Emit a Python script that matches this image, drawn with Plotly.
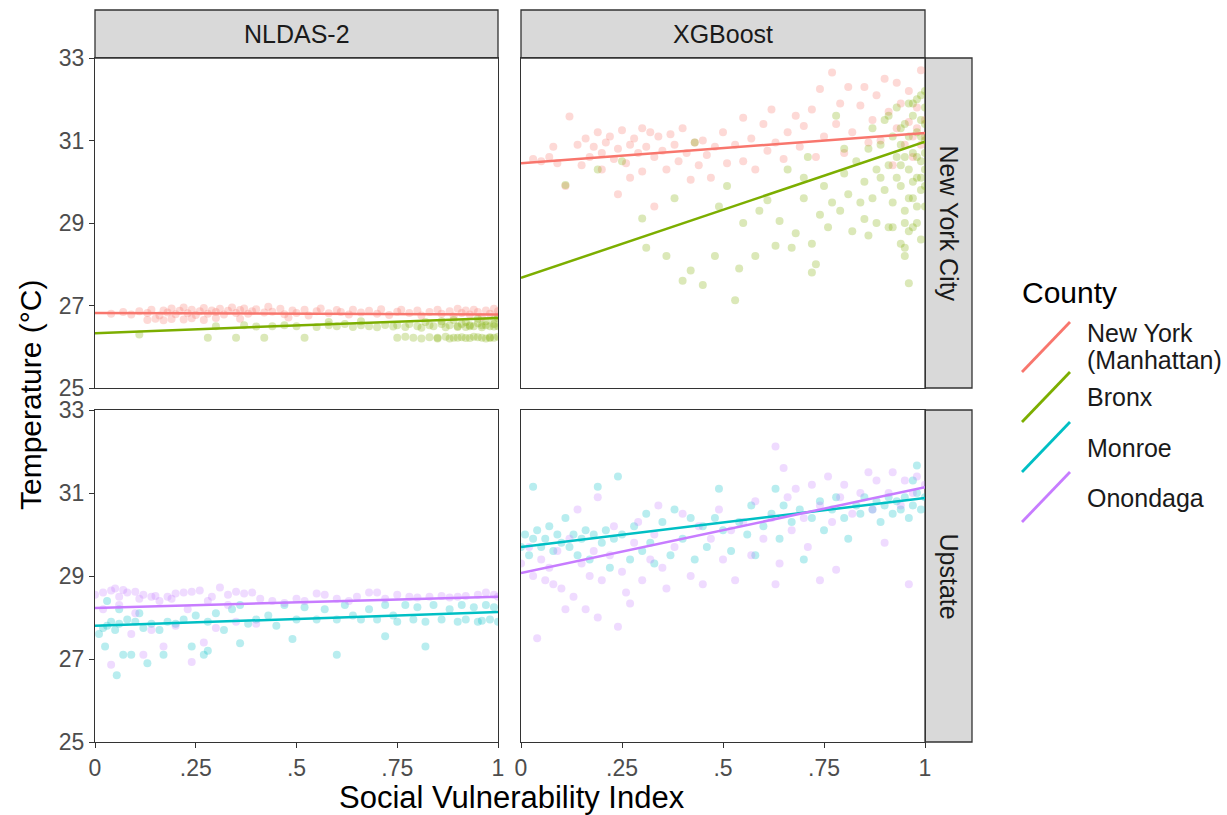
import plotly.graph_objects as go

# ---------------- data ----------------
counties = ["New York (Manhattan)", "Bronx", "Monroe", "Onondaga"]
colors = {"New York (Manhattan)": "#F8766D", "Bronx": "#7CAE00",
          "Monroe": "#00BFC4", "Onondaga": "#C77CFF"}
x_ticks = [0, 0.25, 0.5, 0.75, 1]
x_tick_labels = ["0", ".25", ".5", ".75", "1"]
y_ticks = [25, 27, 29, 31, 33]
y_tick_labels = ["25", "27", "29", "31", "33"]

nldas_manhattan = [(0.04,26.80),(0.07,26.84),(0.09,26.78),(0.11,26.86),(0.13,26.82),(0.14,26.9),(0.16,26.76),(0.17,26.88),(0.18,26.83),(0.19,26.93),(0.2,26.79),(0.21,26.87),(0.22,26.95),(0.23,26.81),(0.24,26.9),(0.25,26.77),(0.26,26.86),(0.27,26.94),(0.28,26.8),(0.29,26.88),(0.3,26.84),(0.31,26.92),(0.32,26.78),(0.33,26.87),(0.34,26.95),(0.35,26.82),(0.36,26.89),(0.37,26.93),(0.38,26.8),(0.39,26.86),(0.4,26.91),(0.42,26.83),(0.43,26.97),(0.44,26.85),(0.46,26.92),(0.47,26.79),(0.49,26.88),(0.5,26.82),(0.52,26.9),(0.53,26.76),(0.55,26.86),(0.56,26.93),(0.58,26.81),(0.6,26.89),(0.61,26.84),(0.63,26.78),(0.64,26.9),(0.66,26.83),(0.68,26.87),(0.7,26.8),(0.71,26.91),(0.73,26.77),(0.75,26.85),(0.76,26.9),(0.78,26.82),(0.8,26.88),(0.81,26.76),(0.83,26.84),(0.85,26.9),(0.86,26.8),(0.88,26.86),(0.89,26.74),(0.9,26.92),(0.91,26.82),(0.92,26.88),(0.93,26.78),(0.94,26.9),(0.95,26.84),(0.96,26.72),(0.97,26.88),(0.98,26.8),(0.99,26.92),(1.0,26.76),(1.0,26.86),(0.13,26.65),(0.15,26.68),(0.17,26.64),(0.19,26.67),(0.22,26.66),(0.24,26.69),(0.27,26.65),(0.3,26.7),(0.36,26.68),(0.48,26.71)]
nldas_bronx = [(0.11,26.3),(0.28,26.22),(0.35,26.22),(0.42,26.22),(0.52,26.22),(0.3,26.5),(0.37,26.52),(0.4,26.49),(0.44,26.5),(0.47,26.52),(0.5,26.5),(0.55,26.48),(0.58,26.52),(0.6,26.5),(0.62,26.55),(0.64,26.48),(0.66,26.52),(0.68,26.5),(0.7,26.47),(0.72,26.53),(0.74,26.49),(0.75,26.52),(0.77,26.48),(0.78,26.55),(0.8,26.5),(0.81,26.46),(0.83,26.52),(0.84,26.5),(0.86,26.55),(0.87,26.47),(0.88,26.52),(0.9,26.5),(0.91,26.55),(0.92,26.48),(0.93,26.52),(0.94,26.5),(0.95,26.57),(0.96,26.47),(0.97,26.52),(0.98,26.5),(0.99,26.55),(1.0,26.5),(0.75,26.22),(0.77,26.24),(0.79,26.22),(0.81,26.2),(0.83,26.23),(0.85,26.22),(0.87,26.24),(0.88,26.2),(0.9,26.22),(0.91,26.23),(0.93,26.21),(0.94,26.24),(0.96,26.22),(0.97,26.2),(0.98,26.23),(0.99,26.22),(1.0,26.24),(0.86,26.62),(0.89,26.65),(0.92,26.6),(0.95,26.68),(0.97,26.62),(0.99,26.66),(1.0,26.7),(0.82,26.6),(0.66,26.62),(0.58,26.6),(0.85,26.2),(0.89,26.22),(0.92,26.21),(0.95,26.23),(0.98,26.21),(0.9,26.48),(0.93,26.5),(0.96,26.52),(0.99,26.49)]
xgb_manhattan = [(0.03,30.55),(0.07,30.6),(0.09,30.45),(0.11,29.9),(0.12,31.58),(0.14,30.9),(0.15,30.4),(0.16,31.05),(0.17,30.6),(0.18,30.85),(0.19,31.2),(0.2,30.7),(0.2,30.3),(0.21,30.95),(0.22,31.1),(0.23,30.55),(0.24,29.7),(0.24,30.8),(0.25,31.25),(0.26,30.45),(0.27,30.9),(0.27,30.1),(0.28,31.05),(0.29,30.7),(0.3,31.3),(0.3,30.25),(0.31,30.85),(0.32,31.2),(0.33,29.4),(0.33,30.6),(0.34,31.1),(0.35,30.75),(0.36,30.3),(0.37,31.15),(0.38,30.9),(0.39,30.5),(0.4,31.3),(0.41,30.7),(0.42,30.05),(0.43,30.95),(0.44,30.4),(0.45,31.0),(0.46,30.65),(0.47,30.1),(0.48,30.85),(0.5,31.2),(0.51,30.45),(0.53,30.9),(0.55,30.5),(0.57,31.05),(0.58,30.3),(0.6,31.4),(0.61,30.75),(0.62,31.75),(0.63,30.95),(0.65,30.55),(0.66,31.2),(0.68,31.6),(0.69,30.85),(0.7,31.35),(0.72,31.75),(0.73,30.6),(0.74,32.25),(0.75,31.1),(0.77,32.65),(0.78,31.4),(0.79,31.9),(0.8,30.7),(0.81,32.3),(0.82,31.2),(0.84,31.85),(0.85,32.3),(0.86,30.95),(0.87,31.5),(0.88,32.1),(0.89,31.0),(0.9,32.5),(0.91,31.7),(0.92,30.4),(0.93,32.4),(0.93,31.3),(0.94,31.9),(0.95,30.9),(0.96,31.45),(0.96,32.2),(0.97,31.1),(0.97,30.6),(0.98,31.8),(0.98,31.3),(0.99,32.7),(0.99,30.9),(1.0,31.5),(1.0,31.1),(0.55,31.55),(0.08,30.85),(0.05,30.5)]
xgb_bronx = [(0.11,29.92),(0.19,30.3),(0.3,29.11),(0.31,28.4),(0.36,28.2),(0.4,27.6),(0.42,27.85),(0.45,27.5),(0.48,28.2),(0.53,27.13),(0.54,27.9),(0.58,28.2),(0.63,28.45),(0.67,28.4),(0.72,28.5),(0.72,27.8),(0.73,28.0),(0.95,28.4),(0.96,27.54),(0.43,30.95),(0.25,30.5),(0.38,29.6),(0.49,29.4),(0.51,29.9),(0.55,29.0),(0.59,29.3),(0.61,29.55),(0.64,29.05),(0.66,30.3),(0.68,28.75),(0.7,29.6),(0.71,30.6),(0.74,29.2),(0.75,29.9),(0.76,28.9),(0.77,29.5),(0.78,31.6),(0.79,29.3),(0.8,30.2),(0.81,29.7),(0.82,28.8),(0.83,30.5),(0.84,29.5),(0.85,30.0),(0.85,29.1),(0.86,30.8),(0.87,29.6),(0.87,31.3),(0.88,30.3),(0.88,29.0),(0.89,30.9),(0.9,29.8),(0.9,31.5),(0.91,30.4),(0.91,28.9),(0.92,31.1),(0.92,29.5),(0.93,30.6),(0.93,31.8),(0.94,29.9),(0.94,30.9),(0.95,31.4),(0.95,29.3),(0.96,30.3),(0.96,31.9),(0.96,28.8),(0.97,30.7),(0.97,29.6),(0.97,31.6),(0.98,30.1),(0.98,31.2),(0.98,29.0),(0.98,32.0),(0.99,30.5),(0.99,31.5),(0.99,29.8),(0.99,28.6),(1.0,31.0),(1.0,30.3),(1.0,31.8),(1.0,32.2),(1.0,29.4),(0.94,28.5),(0.95,28.2),(0.92,28.9),(0.86,28.7),(0.8,30.8),(0.7,30.1),(0.93,30.1),(0.94,31.3),(0.95,30.6),(0.96,29.6),(0.96,31.1),(0.97,30.0),(0.97,31.9),(0.98,30.6),(0.98,29.4),(0.99,31.1),(0.99,30.1),(0.99,32.1),(1.0,30.7),(1.0,31.4),(1.0,29.9),(0.97,28.9),(0.94,30.4),(0.91,31.6),(0.89,30.1),(0.95,29.0)]
nldas_onondaga = [(0.0,28.55),(0.02,28.6),(0.04,28.65),(0.05,28.7),(0.06,28.5),(0.07,28.66),(0.08,28.6),(0.1,28.62),(0.11,28.45),(0.12,28.55),(0.14,28.5),(0.15,28.52),(0.16,28.4),(0.18,28.5),(0.19,28.45),(0.2,28.58),(0.22,28.6),(0.24,28.62),(0.26,28.65),(0.28,28.4),(0.29,28.5),(0.31,28.72),(0.33,28.55),(0.35,28.62),(0.37,28.58),(0.39,28.6),(0.41,28.45),(0.44,28.4),(0.47,28.35),(0.5,28.45),(0.52,28.4),(0.55,28.58),(0.57,28.55),(0.6,28.45),(0.63,28.4),(0.65,28.5),(0.68,28.6),(0.7,28.6),(0.72,28.45),(0.75,28.55),(0.78,28.5),(0.8,28.48),(0.83,28.5),(0.86,28.52),(0.88,28.48),(0.9,28.5),(0.92,28.52),(0.95,28.55),(0.97,28.6),(0.99,28.55),(1.0,28.5),(0.04,26.86),(0.24,26.93),(0.17,27.3),(0.12,27.1),(0.27,27.4),(0.09,27.6),(0.14,27.7),(0.2,27.8),(0.3,27.75),(0.02,28.2),(0.06,28.3),(0.1,28.1),(0.23,28.2),(0.35,27.9),(0.4,27.85),(0.33,28.3)]
nldas_monroe = [(0.054,26.61),(0.6,27.1),(0.82,27.3),(0.72,27.55),(0.025,27.3),(0.13,26.9),(0.07,27.1),(0.09,27.1),(0.17,27.1),(0.27,27.1),(0.28,27.2),(0.36,27.38),(0.49,27.48),(0.24,27.3),(0.01,27.6),(0.02,27.75),(0.03,27.8),(0.04,27.9),(0.05,27.7),(0.06,27.85),(0.08,27.95),(0.1,27.9),(0.12,27.75),(0.14,27.85),(0.16,27.7),(0.18,27.9),(0.2,27.85),(0.22,27.95),(0.25,28.05),(0.28,27.9),(0.3,28.1),(0.32,27.7),(0.34,28.2),(0.36,28.3),(0.38,27.85),(0.4,27.95),(0.43,28.05),(0.45,27.8),(0.47,28.3),(0.5,27.95),(0.52,28.25),(0.55,27.95),(0.57,28.2),(0.6,27.95),(0.62,28.3),(0.64,28.05),(0.66,27.95),(0.68,28.2),(0.7,27.95),(0.72,28.3),(0.74,28.05),(0.75,27.9),(0.77,28.3),(0.79,27.95),(0.8,28.25),(0.82,27.9),(0.84,28.3),(0.86,27.95),(0.88,28.2),(0.9,27.9),(0.91,28.3),(0.92,27.95),(0.94,28.25),(0.95,27.9),(0.96,27.92),(0.97,28.3),(0.98,27.95),(0.99,28.25),(1.0,27.9),(0.06,28.2),(0.11,28.1),(0.03,28.4)]
xgb_onondaga = [(0.04,27.5),(0.63,32.12),(0.65,31.6),(0.24,27.78),(0.11,28.2),(0.19,28.0),(0.16,28.2),(0.27,28.34),(0.78,29.15),(0.74,28.9),(0.96,28.8),(0.63,28.8),(0.0,29.3),(0.02,29.7),(0.03,29.0),(0.05,29.4),(0.06,28.9),(0.07,29.2),(0.08,28.8),(0.09,29.6),(0.1,28.7),(0.12,29.9),(0.13,28.5),(0.14,30.6),(0.15,29.3),(0.17,29.0),(0.18,29.6),(0.19,30.9),(0.2,28.9),(0.22,29.5),(0.23,30.2),(0.25,29.1),(0.26,28.6),(0.28,29.8),(0.29,30.3),(0.3,28.9),(0.32,29.4),(0.33,30.0),(0.34,30.7),(0.35,29.2),(0.36,28.7),(0.38,29.7),(0.4,30.5),(0.42,29.0),(0.44,30.2),(0.45,28.8),(0.47,29.9),(0.49,30.6),(0.5,29.4),(0.52,30.1),(0.53,28.9),(0.55,30.3),(0.57,29.5),(0.58,30.8),(0.6,29.9),(0.62,30.4),(0.64,29.3),(0.66,30.9),(0.67,30.1),(0.68,31.1),(0.7,30.4),(0.71,29.7),(0.72,31.2),(0.74,30.7),(0.76,31.4),(0.77,30.3),(0.79,30.9),(0.8,31.2),(0.82,30.5),(0.84,31.0),(0.86,31.5),(0.87,30.6),(0.88,31.3),(0.9,29.8),(0.91,31.0),(0.92,31.5),(0.94,30.7),(0.95,31.3),(0.97,31.0),(0.98,31.4),(1.0,31.2)]
xgb_monroe = [(0.03,31.15),(0.24,31.4),(0.19,31.15),(0.49,31.1),(0.63,31.1),(0.98,31.66),(0.0,29.7),(0.01,30.0),(0.02,29.5),(0.03,29.9),(0.04,30.1),(0.05,29.7),(0.06,29.9),(0.07,30.2),(0.08,29.6),(0.09,30.0),(0.1,29.8),(0.11,30.4),(0.12,29.7),(0.13,30.0),(0.14,29.5),(0.15,29.9),(0.16,30.1),(0.17,29.4),(0.18,30.0),(0.2,29.8),(0.21,30.1),(0.22,29.2),(0.23,29.9),(0.25,30.0),(0.27,29.4),(0.28,30.2),(0.3,29.6),(0.31,30.5),(0.32,29.8),(0.33,29.3),(0.35,30.3),(0.37,29.5),(0.38,30.6),(0.4,29.9),(0.42,30.4),(0.43,29.4),(0.45,30.2),(0.46,29.7),(0.48,30.4),(0.5,30.1),(0.52,29.6),(0.54,30.3),(0.56,30.0),(0.57,30.7),(0.58,29.5),(0.6,30.2),(0.62,30.5),(0.64,29.9),(0.65,30.7),(0.67,30.3),(0.69,30.6),(0.7,29.4),(0.72,30.4),(0.74,30.8),(0.75,30.1),(0.77,30.6),(0.78,30.9),(0.8,30.4),(0.81,29.9),(0.83,30.7),(0.84,30.5),(0.85,30.9),(0.87,30.6),(0.88,30.8),(0.89,30.3),(0.9,30.7),(0.91,30.9),(0.92,30.5),(0.93,30.8),(0.94,30.6),(0.95,30.9),(0.96,30.4),(0.97,30.7),(0.98,31.0),(0.99,30.6),(1.0,30.9),(0.97,31.3)]

# fitted line values at SVI = 0 and SVI = 1
fit_x = [0, 1]
fit_nldas_manhattan = [26.82, 26.78]
fit_nldas_bronx = [26.33, 26.70]
fit_xgb_manhattan = [30.45, 31.18]
fit_xgb_bronx = [27.67, 30.97]
fit_nldas_monroe = [27.80, 28.13]
fit_nldas_onondaga = [28.23, 28.50]
fit_xgb_monroe = [29.70, 30.88]
fit_xgb_onondaga = [29.07, 31.14]

# panel id -> (axis suffix, [(county, points, fit)])
panels = [
    ("", [("New York (Manhattan)", nldas_manhattan, fit_nldas_manhattan), ("Bronx", nldas_bronx, fit_nldas_bronx)]),
    ("2", [("New York (Manhattan)", xgb_manhattan, fit_xgb_manhattan), ("Bronx", xgb_bronx, fit_xgb_bronx)]),
    ("3", [("Monroe", nldas_monroe, fit_nldas_monroe), ("Onondaga", nldas_onondaga, fit_nldas_onondaga)]),
    ("4", [("Monroe", xgb_monroe, fit_xgb_monroe), ("Onondaga", xgb_onondaga, fit_xgb_onondaga)]),
]

W, H = 1227, 815
def px(v): return v / W
def py(v): return 1 - v / H

fig = go.Figure()
for suf, series in panels:
    for county, pts, fit in series:
        fig.add_trace(go.Scatter(
            x=[p[0] for p in pts], y=[p[1] for p in pts], mode="markers",
            xaxis="x" + suf, yaxis="y" + suf, showlegend=False, hoverinfo="skip",
            marker=dict(size=8, color=colors[county], opacity=0.28, line=dict(width=0))))
for suf, series in panels:
    for county, pts, fit in series:
        fig.add_trace(go.Scatter(
            x=fit_x, y=fit, mode="lines", xaxis="x" + suf, yaxis="y" + suf,
            showlegend=False, hoverinfo="skip",
            line=dict(color=colors[county], width=2.5)))

FONT = "Liberation Sans, Arial, sans-serif"
L1, R1, L2, R2 = 95, 498, 521, 925
T1, B1, T2, B2 = 58, 388, 410, 742
border = "#333333"
TICK = dict(family=FONT, size=23, color="#4D4D4D")

def xax(l, r, anchor, labels):
    return dict(domain=[px(l), px(r)], anchor=anchor, range=[0, 1], showgrid=False, zeroline=False,
                automargin=False, showline=True, mirror=True, linecolor=border, linewidth=1.3,
                tickvals=x_ticks, ticktext=x_tick_labels,
                ticks="outside" if labels else "", ticklen=5, tickcolor=border, tickwidth=1.3,
                showticklabels=labels, tickfont=TICK)

def yax(t, b, anchor, labels):
    return dict(domain=[py(b), py(t)], anchor=anchor, range=[25, 33], showgrid=False, zeroline=False,
                automargin=False, showline=True, mirror=True, linecolor=border, linewidth=1.3,
                tickvals=y_ticks, ticktext=y_tick_labels,
                ticks="outside" if labels else "", ticklen=5, tickcolor=border, tickwidth=1.3,
                showticklabels=labels, tickfont=TICK)

shapes = []
strip = dict(type="rect", xref="paper", yref="paper", fillcolor="#D9D9D9",
             line=dict(color=border, width=1.3), layer="below")
shapes.append(dict(strip, x0=px(L1), x1=px(R1), y0=py(T1), y1=py(10)))
shapes.append(dict(strip, x0=px(L2), x1=px(R2), y0=py(T1), y1=py(10)))
shapes.append(dict(strip, x0=px(R2), x1=px(972), y0=py(B1), y1=py(T1)))
shapes.append(dict(strip, x0=px(R2), x1=px(972), y0=py(B2), y1=py(T2)))

annotations = [
    dict(text="NLDAS-2", x=px((L1 + R1) / 2), y=py(34)),
    dict(text="XGBoost", x=px((L2 + R2) / 2), y=py(34)),
    dict(text="New York City", x=px(948.5), y=py((T1 + B1) / 2), textangle=90),
    dict(text="Upstate", x=px(948.5), y=py((T2 + B2) / 2), textangle=90),
]
for a in annotations:
    a.update(xref="paper", yref="paper", showarrow=False, xanchor="center", yanchor="middle",
             font=dict(family=FONT, size=25, color="#1A1A1A"))

annotations.append(dict(text="Social Vulnerability Index", x=px(512), y=py(797), xref="paper", yref="paper",
                        showarrow=False, xanchor="center", yanchor="middle",
                        font=dict(family=FONT, size=31, color="#000000")))
annotations.append(dict(text="Temperature (°C)", x=px(30), y=py(395), xref="paper", yref="paper",
                        showarrow=False, xanchor="center", yanchor="middle", textangle=-90,
                        font=dict(family=FONT, size=30, color="#000000")))

# legend (ggplot-style diagonal keys)
annotations.append(dict(text="County", x=px(1020), y=py(293), xref="paper", yref="paper", showarrow=False,
                        xanchor="left", yanchor="middle", font=dict(family=FONT, size=30, color="#000000")))
legend_keys = [("New York (Manhattan)", 372), ("Bronx", 422), ("Monroe", 472), ("Onondaga", 522)]
legend_texts = [("New York", 333), ("(Manhattan)", 360), ("Bronx", 397), ("Monroe", 448), ("Onondaga", 498)]
for county, ybot in legend_keys:
    shapes.append(dict(type="line", xref="paper", yref="paper", x0=px(1022), y0=py(ybot),
                       x1=px(1070), y1=py(ybot - 50), line=dict(color=colors[county], width=2.8)))
for label, ytxt in legend_texts:
    annotations.append(dict(text=label, x=px(1085), y=py(ytxt), xref="paper", yref="paper", showarrow=False,
                            xanchor="left", yanchor="middle", align="left",
                            font=dict(family=FONT, size=25, color="#1A1A1A")))

fig.update_layout(
    width=W, height=H, margin=dict(l=0, r=0, t=0, b=0),
    paper_bgcolor="white", plot_bgcolor="white", showlegend=False,
    xaxis=xax(L1, R1, "y", False), yaxis=yax(T1, B1, "x", True),
    xaxis2=xax(L2, R2, "y2", False), yaxis2=yax(T1, B1, "x2", False),
    xaxis3=xax(L1, R1, "y3", True), yaxis3=yax(T2, B2, "x3", True),
    xaxis4=xax(L2, R2, "y4", True), yaxis4=yax(T2, B2, "x4", False),
    shapes=shapes, annotations=annotations,
)

fig.write_html("out.html")
